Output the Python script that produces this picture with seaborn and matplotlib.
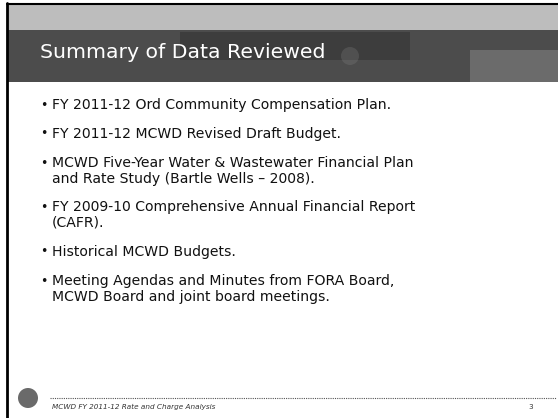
import matplotlib
matplotlib.use("Agg")
import matplotlib.pyplot as plt
from matplotlib.patches import Rectangle, Circle
import seaborn as sns

sns.set_theme(style="white")
plt.rcParams['font.family'] = ['DejaVu Sans']

title = "Summary of Data Reviewed"
bullets = [
    ["FY 2011-12 Ord Community Compensation Plan."],
    ["FY 2011-12 MCWD Revised Draft Budget."],
    ["MCWD Five-Year Water & Wastewater Financial Plan",
     "and Rate Study (Bartle Wells \u2013 2008)."],
    ["FY 2009-10 Comprehensive Annual Financial Report",
     "(CAFR)."],
    ["Historical MCWD Budgets."],
    ["Meeting Agendas and Minutes from FORA Board,",
     "MCWD Board and joint board meetings."],
]
footer = "MCWD FY 2011-12 Rate and Charge Analysis"
page = "3"

W, H = 558, 418
fig = plt.figure(figsize=(W / 100, H / 100), dpi=100)
ax = fig.add_axes([0, 0, 1, 1])
ax.set_xlim(0, W)
ax.set_ylim(H, 0)
ax.axis("off")

# header bands
ax.add_patch(Rectangle((7, 4), W - 7, 27, color="#bdbdbd", lw=0))
ax.add_patch(Rectangle((7, 30), W - 7, 52, color="#4c4c4c", lw=0))
ax.add_patch(Rectangle((180, 32), 230, 28, color="#333333", lw=0, alpha=0.6))
ax.add_patch(Rectangle((470, 50), 88, 32, color="#808080", lw=0, alpha=0.6))
ax.add_patch(Circle((350, 56), 9, color="#8a8a8a", lw=0, alpha=0.25))
# borders
ax.plot([7, W], [3.5, 3.5], color="black", lw=1.5)
ax.plot([7, 7], [3, H], color="black", lw=2)

ax.text(40, 53, title, color="white", fontsize=14.7, va="center", ha="left")

y = 105
for item in bullets:
    ax.text(40.5, y, "\u2022", fontsize=9, va="center", ha="left", color="#111111")
    for j, line in enumerate(item):
        ax.text(52, y + j * 15.5, line, fontsize=10.1, va="center", ha="left",
                color="#111111")
    y += 29 + 15.5 * (len(item) - 1)

# footer
ax.add_patch(Circle((28, 398), 10, color="#6a6a6a", lw=0))
ax.plot([50, 556], [398, 398], color="#555555", lw=0.8, ls=(0, (1, 1)))
ax.text(52, 407, footer, fontsize=5.2, style="italic", va="center", ha="left",
        color="#333333")
ax.text(528, 407, page, fontsize=5.2, va="center", ha="left", color="#333333")

fig.savefig("out.png", dpi=100, facecolor="white")
